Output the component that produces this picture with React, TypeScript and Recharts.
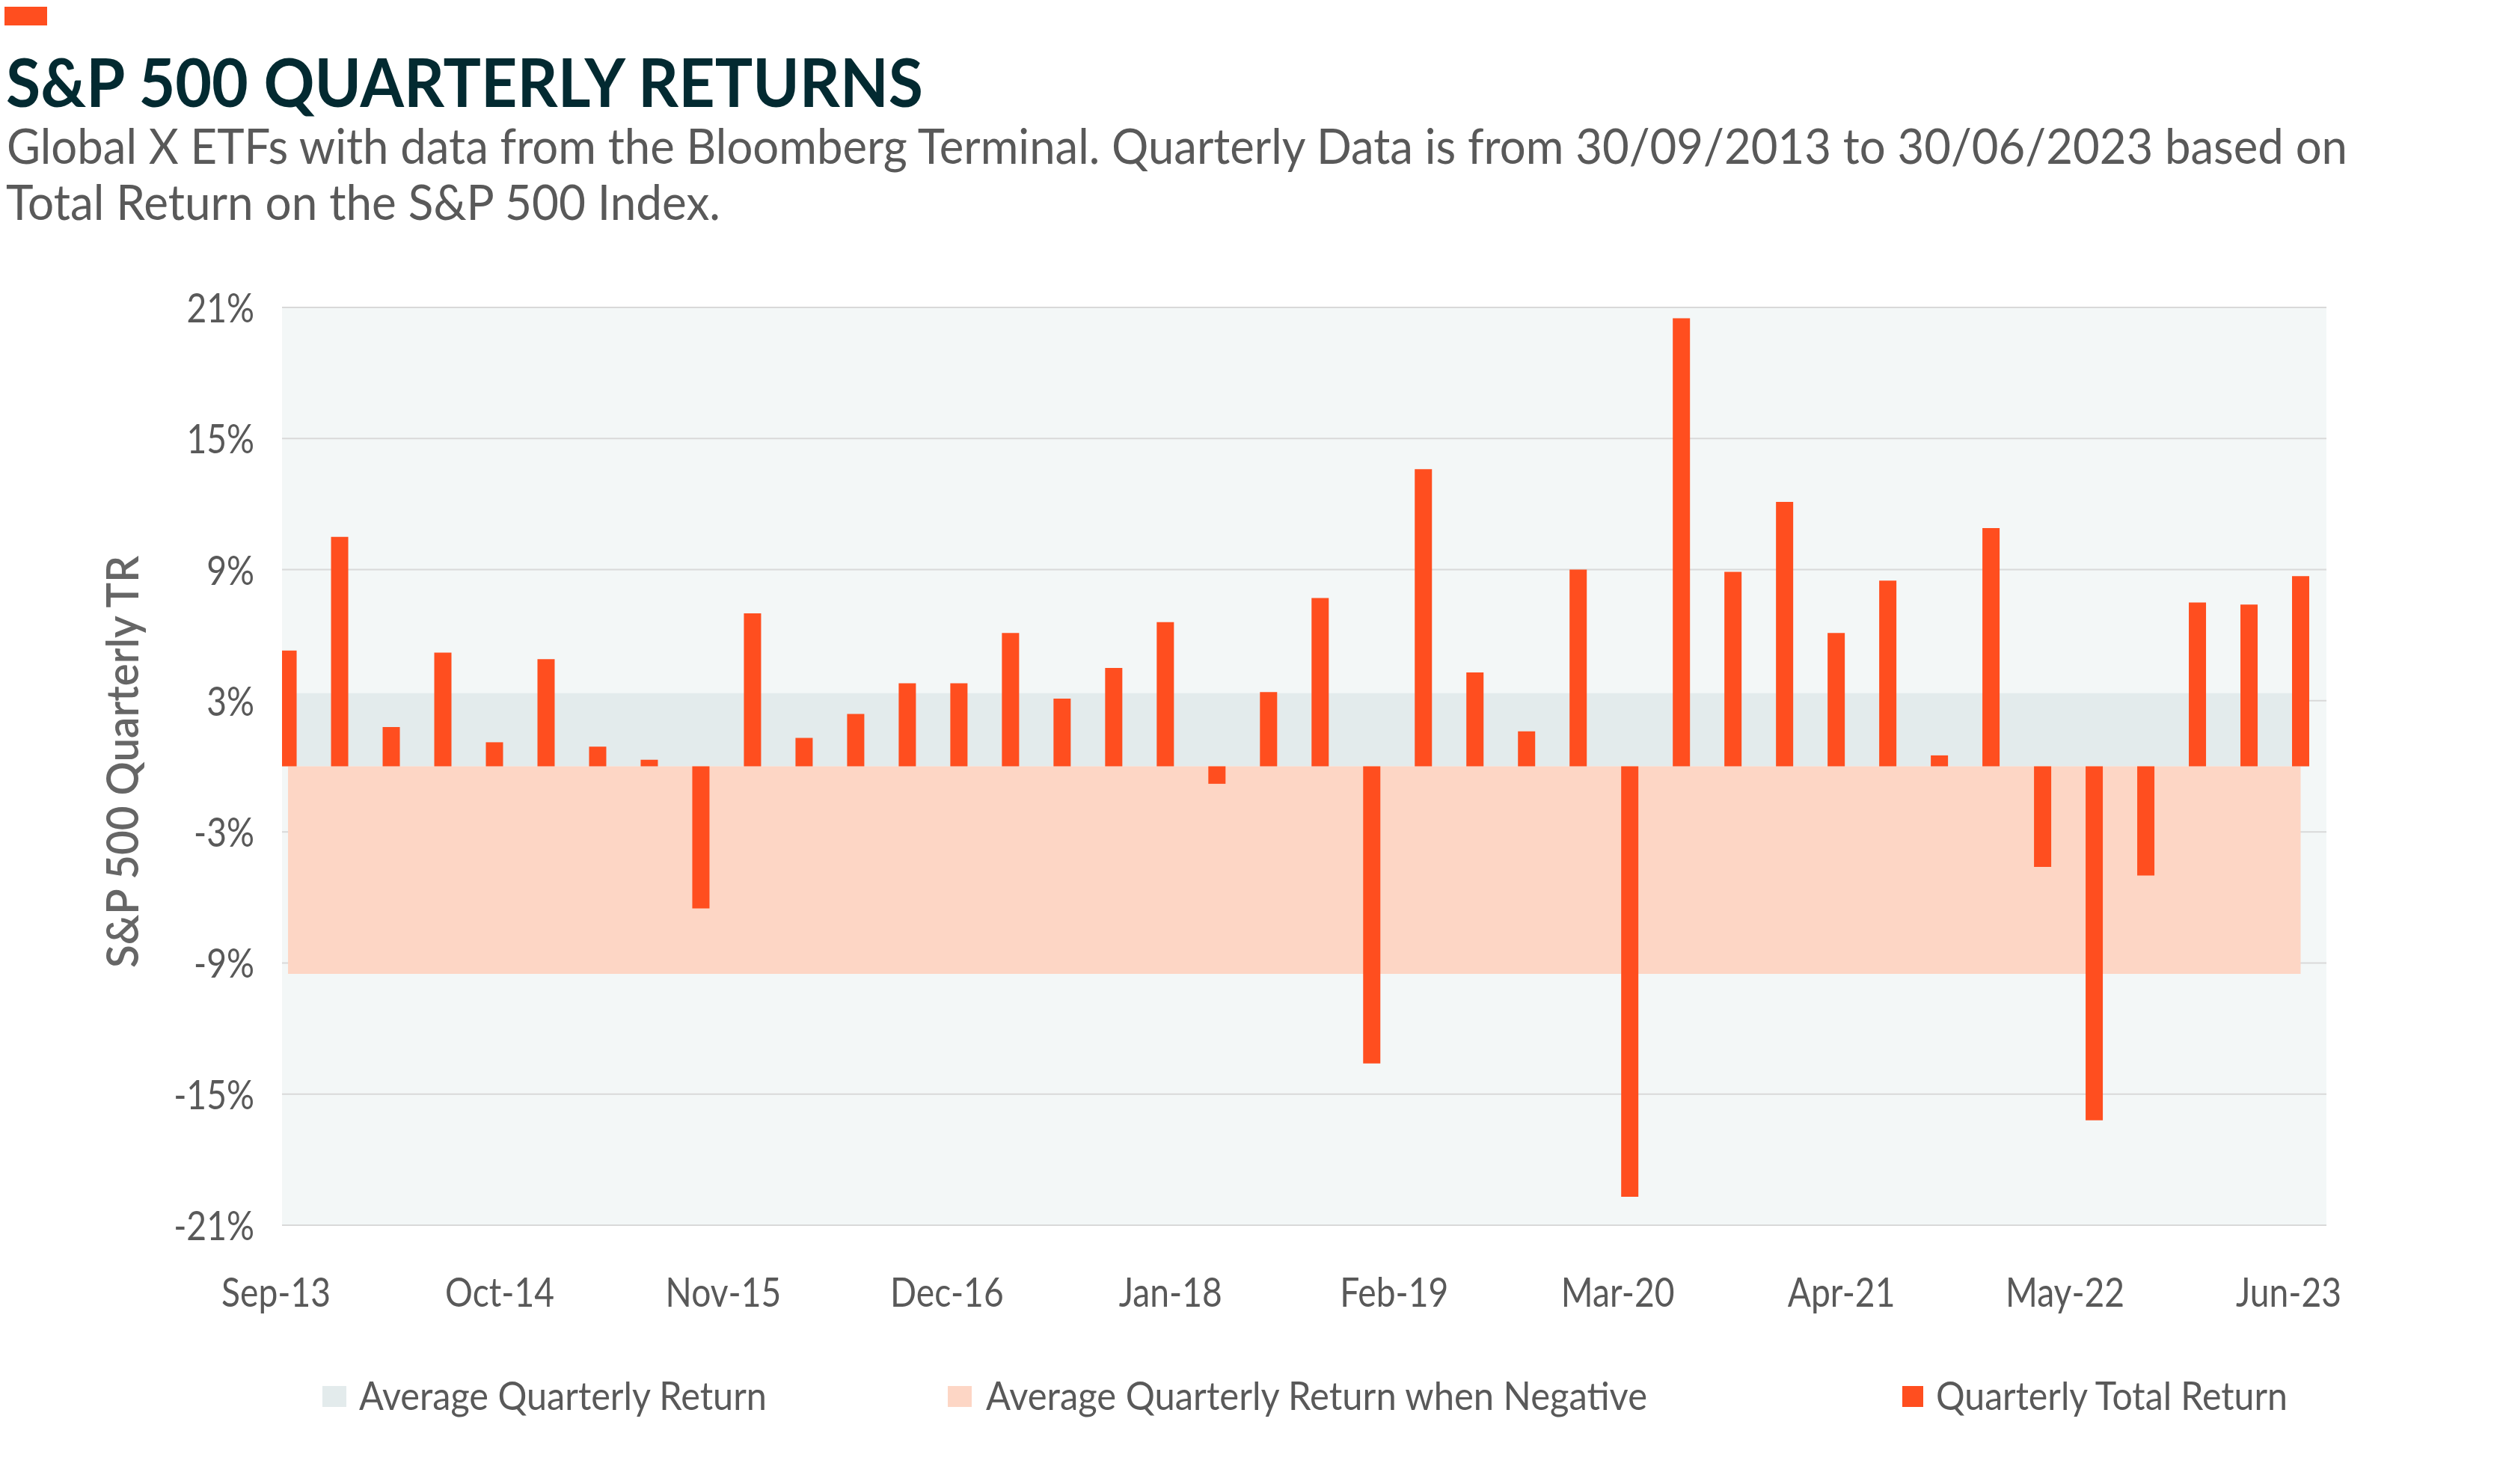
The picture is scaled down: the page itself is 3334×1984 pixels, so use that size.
import React from 'react';
import { ComposedChart, Bar, Area, XAxis, YAxis, CartesianGrid, ReferenceArea, Label } from 'recharts';

// quarter-end labels, one per bar (30/09/2013 .. 30/06/2023)
const quarters = [
  'Sep-13', 'Dec-13',
  'Mar-14', 'Jun-14', 'Sep-14', 'Dec-14',
  'Mar-15', 'Jun-15', 'Sep-15', 'Dec-15',
  'Mar-16', 'Jun-16', 'Sep-16', 'Dec-16',
  'Mar-17', 'Jun-17', 'Sep-17', 'Dec-17',
  'Mar-18', 'Jun-18', 'Sep-18', 'Dec-18',
  'Mar-19', 'Jun-19', 'Sep-19', 'Dec-19',
  'Mar-20', 'Jun-20', 'Sep-20', 'Dec-20',
  'Mar-21', 'Jun-21', 'Sep-21', 'Dec-21',
  'Mar-22', 'Jun-22', 'Sep-22', 'Dec-22',
  'Mar-23', 'Jun-23',
];

// quarterly total return, %
const quarterlyReturns = [
  5.3, 10.5,
  1.8, 5.2, 1.1, 4.9,
  0.9, 0.3, -6.5, 7.0,
  1.3, 2.4, 3.8, 3.8,
  6.1, 3.1, 4.5, 6.6,
  -0.8, 3.4, 7.7, -13.6,
  13.6, 4.3, 1.6, 9.0,
  -19.7, 20.5, 8.9, 12.1,
  6.1, 8.5, 0.5, 10.9,
  -4.6, -16.2, -5.0, 7.5,
  7.4, 8.7,
];

const averageReturn = 3.35;
const averageNegativeReturn = -9.5;

const xTickLabels = ['Sep-13', 'Oct-14', 'Nov-15', 'Dec-16', 'Jan-18', 'Feb-19', 'Mar-20', 'Apr-21', 'May-22', 'Jun-23'];
const yTicks = [-21, -15, -9, -3, 3, 9, 15, 21];

const legendItems = [
  { label: 'Average Quarterly Return', color: '#E3EBEC' },
  { label: 'Average Quarterly Return when Negative', color: '#FDD6C5' },
  { label: 'Quarterly Total Return', color: '#FF4E1F' },
];

// x axis runs in months from Sep-13; quarters every 3 months, labels every 13
const MONTHS_PER_QUARTER = 3;
const MONTHS_PER_LABEL = 13;

const data = quarters.map((q, i) => ({
  quarter: q,
  month: i * MONTHS_PER_QUARTER,
  ret: quarterlyReturns[i],
  avgNeg: averageNegativeReturn,
}));
const lastMonth = (quarters.length - 1) * MONTHS_PER_QUARTER;
const xTicks = xTickLabels.map((_, i) => i * MONTHS_PER_LABEL);

const FONT = 'Lato, "Open Sans", sans-serif';
const TEXT = '#595959';
const SQUEEZE = 0.84;

const squeeze = (x: number) => `translate(${x} 0) scale(${SQUEEZE} 1) translate(${-x} 0)`;

const XTick = ({ x, y, payload }: any) => {
  const cx = x - 16;
  return (
    <text x={cx} y={y} dy={39} textAnchor="middle" fontSize={55} fill={TEXT} fontFamily={FONT} transform={squeeze(cx)}>
      {xTickLabels[Math.round(payload.value / MONTHS_PER_LABEL)]}
    </text>
  );
};

const YTick = ({ x, y, payload }: any) => (
  <text x={x} y={y} dy={20} textAnchor="end" fontSize={55} fill={TEXT} fontFamily={FONT} transform={squeeze(x)}>
    {`${payload.value}%`}
  </text>
);

const YTitle = ({ viewBox }: any) => {
  const x = viewBox.x + 185;
  const y = viewBox.y + viewBox.height / 2 - 6;
  return (
    <text x={x} y={y} transform={`rotate(-90 ${x} ${y})`} textAnchor="middle" fontSize={60} fontWeight={600}
      fill="#666666" fontFamily={FONT} textLength={551} lengthAdjust="spacingAndGlyphs">
      S&amp;P 500 Quarterly TR
    </text>
  );
};

const legendPos = [
  { square: 431, text: 480, width: 545 },
  { square: 1267, text: 1318, width: 884 },
  { square: 2543, text: 2588, width: 470 },
];

export default function App() {
  return (
    <div style={{ position: 'absolute', left: 0, top: 0, width: 3334, height: 1984, background: '#fff', overflow: 'hidden' }}>
      <ComposedChart width={3334} height={1984} data={data} margin={{ top: 411, right: 224, bottom: 246, left: 0 }}>
        <CartesianGrid vertical={false} stroke="#D9D9D9" strokeWidth={2} fill="#F3F7F7" fillOpacity={1} />
        <XAxis
          type="number"
          dataKey="month"
          domain={[-0.35, 118.5]}
          ticks={xTicks}
          allowDataOverflow
          axisLine={false}
          tickLine={false}
          tickSize={0}
          tickMargin={70}
          height={100}
          interval={0}
          tick={<XTick />}
        />
        <YAxis
          type="number"
          domain={[-21, 21]}
          ticks={yTicks}
          allowDataOverflow
          axisLine={false}
          tickLine={false}
          tickSize={0}
          tickMargin={37}
          width={377}
          interval={0}
          tick={<YTick />}
        >
          <Label content={<YTitle />} />
        </YAxis>
        <ReferenceArea
          x1={-0.5}
          x2={lastMonth + 0.5}
          y1={0}
          y2={averageReturn}
          fill="#E3EBEC"
          fillOpacity={1}
          stroke="none"
          ifOverflow="hidden"
        />
        <Area
          type="linear"
          dataKey="avgNeg"
          stroke="none"
          fill="#FDD6C5"
          fillOpacity={1}
          isAnimationActive={false}
          dot={false}
          activeDot={false}
        />
        <Bar dataKey="ret" fill="#FF4E1F" barSize={23} isAnimationActive={false} />
      </ComposedChart>

      <svg width={3334} height={1984} style={{ position: 'absolute', left: 0, top: 0, pointerEvents: 'none' }}>
        <rect x={6} y={9} width={57} height={25} fill="#FF4E1F" />
        <text x={8} y={143} fontSize={90} fontWeight={700} fill="#032A31" fontFamily={FONT}
          textLength={1226} lengthAdjust="spacingAndGlyphs">
          S&amp;P 500 QUARTERLY RETURNS
        </text>
        <text x={9} y={219} fontSize={65} fill={TEXT} fontFamily={FONT} textLength={3129} lengthAdjust="spacingAndGlyphs">
          Global X ETFs with data from the Bloomberg Terminal. Quarterly Data is from 30/09/2013 to 30/06/2023 based on
        </text>
        <text x={8} y={294} fontSize={65} fill={TEXT} fontFamily={FONT} textLength={955} lengthAdjust="spacingAndGlyphs">
          Total Return on the S&amp;P 500 Index.
        </text>

        {legendItems.map((item, i) => (
          <g key={item.label}>
            <rect x={legendPos[i].square} y={1853} width={i === 2 ? 28 : 32} height={28} fill={item.color} />
            <text x={legendPos[i].text} y={1885} fontSize={53} fill={TEXT} fontFamily={FONT}
              textLength={legendPos[i].width} lengthAdjust="spacingAndGlyphs">
              {item.label}
            </text>
          </g>
        ))}
      </svg>
    </div>
  );
}
